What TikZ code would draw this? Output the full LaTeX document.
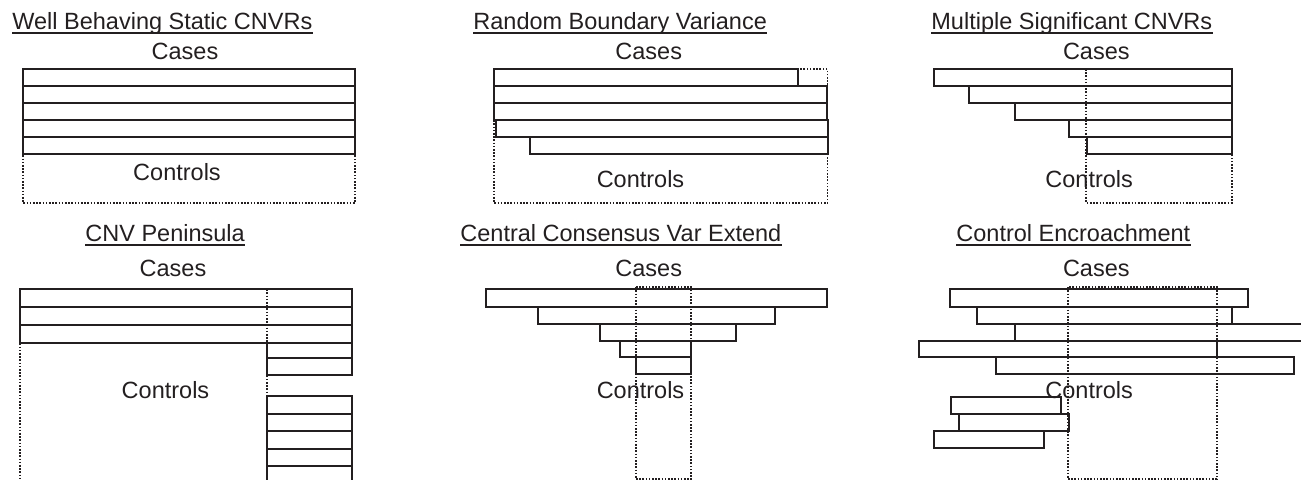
\documentclass[tikz,border=0pt]{standalone}
\usepackage{fontspec}
\setmainfont{Liberation Sans}

\begin{document}
\begin{tikzpicture}[x=0.5pt, y=-0.5pt]

% === Colors ===
\definecolor{inkline}{RGB}{35,31,32}

\tikzset{
  casetext/.style={inner sep=0pt, text=inkline, font=\fontsize{11.75pt}{14pt}\selectfont, anchor=base},
  paneltitle/.style={casetext, anchor=base west},
  uline/.style={inkline, line width=0.9pt},
  cnv/.style={inkline, line width=1pt},
  ctrlzone/.style={inkline, line width=0.9pt, dash pattern=on 0.8pt off 0.8pt},
}

\useasboundingbox (0,0) rectangle (1301,480);

% === Titles (underlined) ===
\foreach \n/\x/\y/\t in {
  wb/12/30/Well Behaving Static CNVRs,
  rb/473/30/Random Boundary Variance,
  ms/931/30/Multiple Significant CNVRs,
  pe/85/241.7/CNV Peninsula,
  cc/460/241.7/Central Consensus Var Extend,
  ce/956/241.7/Control Encroachment
}{
  \node[paneltitle] (t\n) at (\x,\y) {\t};
  \draw[uline] ([yshift=-1.65pt]t\n.base west) -- ([yshift=-1.65pt]t\n.base east);
}

% === Cases / Controls labels ===
\node[casetext] (cases1) at (185,60) {Cases};
\node[casetext] (cases2) at (648.7,60) {Cases};
\node[casetext] (cases3) at (1096.3,60) {Cases};
\node[casetext] (cases4) at (173,276.7) {Cases};
\node[casetext] (cases5) at (648.7,276.7) {Cases};
\node[casetext] (cases6) at (1096.3,276.7) {Cases};
\node[casetext] (ctrl1) at (177,181) {Controls};
\node[casetext] (ctrl2) at (640.5,187.7) {Controls};
\node[casetext] (ctrl3) at (1089.2,187.7) {Controls};
\node[casetext] (ctrl4) at (165.5,399) {Controls};
\node[casetext] (ctrl5) at (640.5,399) {Controls};
\node[casetext] (ctrl6) at (1089.2,399) {Controls};

% === Control regions (dotted) ===
\draw[ctrlzone] (22.7,69) rectangle (355.3,202.7);
\draw[ctrlzone] (494,69) rectangle (827.5,203);
\draw[ctrlzone] (1086.3,69) rectangle (1231.7,203);
\draw[ctrlzone] (266.7,289.3) -- (20,289.3) -- (20,485);
\draw[ctrlzone] (266.7,289.3) -- (266.7,485);
\draw[ctrlzone] (635.7,287.3) rectangle (691.3,479);
\draw[ctrlzone] (1067.7,287.3) rectangle (1216.7,479);

% === Well behaving static ===
\foreach \y/\yy in {69/86, 86/103, 103/120, 120/137, 137/154}{
  \draw[cnv] (22.7,\y) rectangle (355.3,\yy);
}

% === Random boundary variance ===
\foreach \xa/\y/\xb/\yy in {
  494/69/798/86,
  494/86/826.7/103,
  494/103/827/120,
  495.7/120/828.3/137,
  530/137/827.7/154
}{
  \draw[cnv] (\xa,\y) rectangle (\xb,\yy);
}

% === Multiple significant ===
\foreach \xa/\y/\yy in {934/69/86, 968.7/86/103, 1014.7/103/120, 1069/120/137, 1087/137/154}{
  \draw[cnv] (\xa,\y) rectangle (1231.7,\yy);
}

% === CNV peninsula ===
\foreach \xa/\y/\yy in {
  20/289.3/307, 20/307/325, 20/325/342.7,
  266.7/342.7/358, 266.7/358/374.7,
  266.7/396.5/414, 266.7/414/431.3, 266.7/431.3/448.7,
  266.7/448.7/466, 266.7/466/483.5
}{
  \draw[cnv] (\xa,\y) rectangle (352.3,\yy);
}

% === Central consensus ===
\foreach \xa/\y/\xb/\yy in {
  485.7/289.3/827.3/306.7,
  537.7/306.7/775/323.7,
  599.7/323.7/736.3/340.7,
  619.7/340.7/690.7/357.3,
  636/357.3/690.7/374.3
}{
  \draw[cnv] (\xa,\y) rectangle (\xb,\yy);
}

% === Control encroachment ===
\foreach \xa/\y/\xb/\yy in {
  950.3/289.3/1248.3/306.7,
  976.7/306.7/1231.7/323.7,
  1014.7/323.7/1310/340.7,
  919.3/340.7/1217.3/357.3,
  996/357.3/1294.3/374.3,
  950.7/397.3/1060.7/414,
  958.7/414/1068.7/431.3,
  933.7/431.3/1044/448.3
}{
  \draw[cnv] (\xa,\y) rectangle (\xb,\yy);
}

\end{tikzpicture}
\end{document}
